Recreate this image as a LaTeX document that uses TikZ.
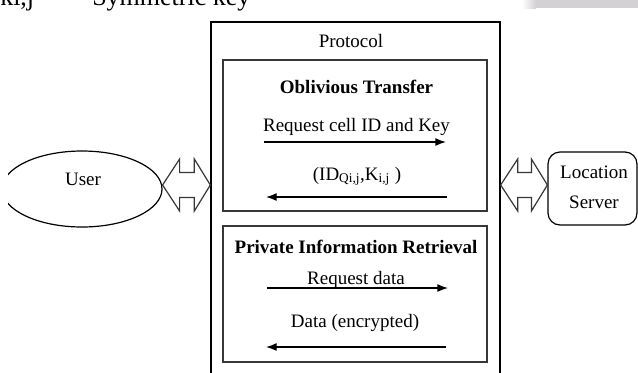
\documentclass[tikz,border=0pt]{standalone}
\usepackage{fontspec}
\setmainfont{Liberation Serif}
\usetikzlibrary{shapes.geometric,arrows.meta,calc}

\definecolor{barGray}{RGB}{211,209,211}
\definecolor{edgeGray}{RGB}{55,55,55}

% two-headed block arrow between two tip points
\newcommand\twowayarrow[2]{%
  \draw[twoway] (#1) -- ($(#1)+(17,-26)$) -- ($(#1)+(17,-12.5)$)
    -- ($(#2)+(-16,-12.5)$) -- ($(#2)+(-16,-26)$) -- (#2)
    -- ($(#2)+(-16,26)$) -- ($(#2)+(-16,12.5)$)
    -- ($(#1)+(17,12.5)$) -- ($(#1)+(17,26)$) -- cycle;}

\begin{document}
\begin{tikzpicture}[x=0.75pt,y=-0.75pt,
  box/.style={draw=black, line width=1pt, inner sep=0pt},
  lbl/.style={anchor=base, inner sep=0pt, font=\fontsize{14.25}{17}\selectfont},
  title/.style={lbl, font=\fontsize{14.25}{17}\selectfont\bfseries},
  toplbl/.style={anchor=base west, inner sep=0pt, font=\fontsize{19.5}{22}\selectfont},
  msg/.style={draw=black, line width=1pt, -{Latex[length=8pt,width=6pt]}},
  twoway/.style={draw=edgeGray, line width=0.9pt, line join=miter}]

\useasboundingbox (0,0) rectangle (638,372);
\clip (0,0) rectangle (638,372);

% caption line above the figure
\node[toplbl] (keysym) at (0,5) {ki,j};
\node[toplbl] (keydesc) at (92,5) {Symmetric key};
\shade[left color=white, right color=barGray] (522,0) rectangle (536,8);
\fill[barGray] (536,0) rectangle (638,8);

% outer protocol frame and its two sub-protocols
\node[box, minimum width=216.75pt, minimum height=272.25pt] (protocol) at (355.5,203.5) {};
\node[box, draw=edgeGray, minimum width=198pt, minimum height=113.25pt] (ot) at (355,135.5) {};
\node[box, draw=edgeGray, minimum width=198pt, minimum height=102pt] (pir) at (355,294) {};

\node[lbl] (protocolLabel) at (351,47) {Protocol};

% oblivious transfer
\node[title] (otTitle) at (356.5,93) {Oblivious Transfer};
\node[lbl] (otReq) at (356.5,131) {Request cell ID and Key};
\coordinate (otA) at (264,142);
\coordinate (otB) at (446,142);
\draw[msg] (otA) -- (otB);
\node[lbl] (otResp) at (357,180) {(ID\textsubscript{Qi,j},K\textsubscript{i,j} )};
\coordinate (otC) at (447,197);
\coordinate (otD) at (266,197);
\draw[msg] (otC) -- (otD);

% private information retrieval
\node[title] (pirTitle) at (356,253) {Private Information Retrieval};
\node[lbl] (pirReq) at (356,284) {Request data};
\coordinate (pirA) at (267,288);
\coordinate (pirB) at (448,288);
\draw[msg] (pirA) -- (pirB);
\node[lbl] (pirResp) at (355,327) {Data (encrypted)};
\coordinate (pirC) at (446,347);
\coordinate (pirD) at (266,347);
\draw[msg] (pirC) -- (pirD);

% user
\begin{scope}
  \clip (8,0) rectangle (638,372);
  \node[ellipse, draw=black, line width=0.9pt, minimum width=120pt, minimum height=57pt, inner sep=0pt] (user) at (82,189) {};
\end{scope}
\node[lbl] (userLabel) at (83,185) {User};

% location server
\node[draw=black, line width=0.9pt, rounded corners=9pt, minimum width=66.75pt, minimum height=54.75pt, inner sep=0pt] (server) at (592.5,188.5) {};
\node[lbl] (serverL1) at (594,178) {Location};
\node[lbl] (serverL2) at (594,208) {Server};

% two-way links
\coordinate (uTip) at (user.east |- 0,185);
\coordinate (pTipL) at (protocol.west |- 0,185);
\twowayarrow{uTip}{pTipL}
\coordinate (pTipR) at (protocol.east |- 0,185);
\coordinate (sTip) at (server.west |- 0,185);
\twowayarrow{pTipR}{sTip}
\end{tikzpicture}
\end{document}
